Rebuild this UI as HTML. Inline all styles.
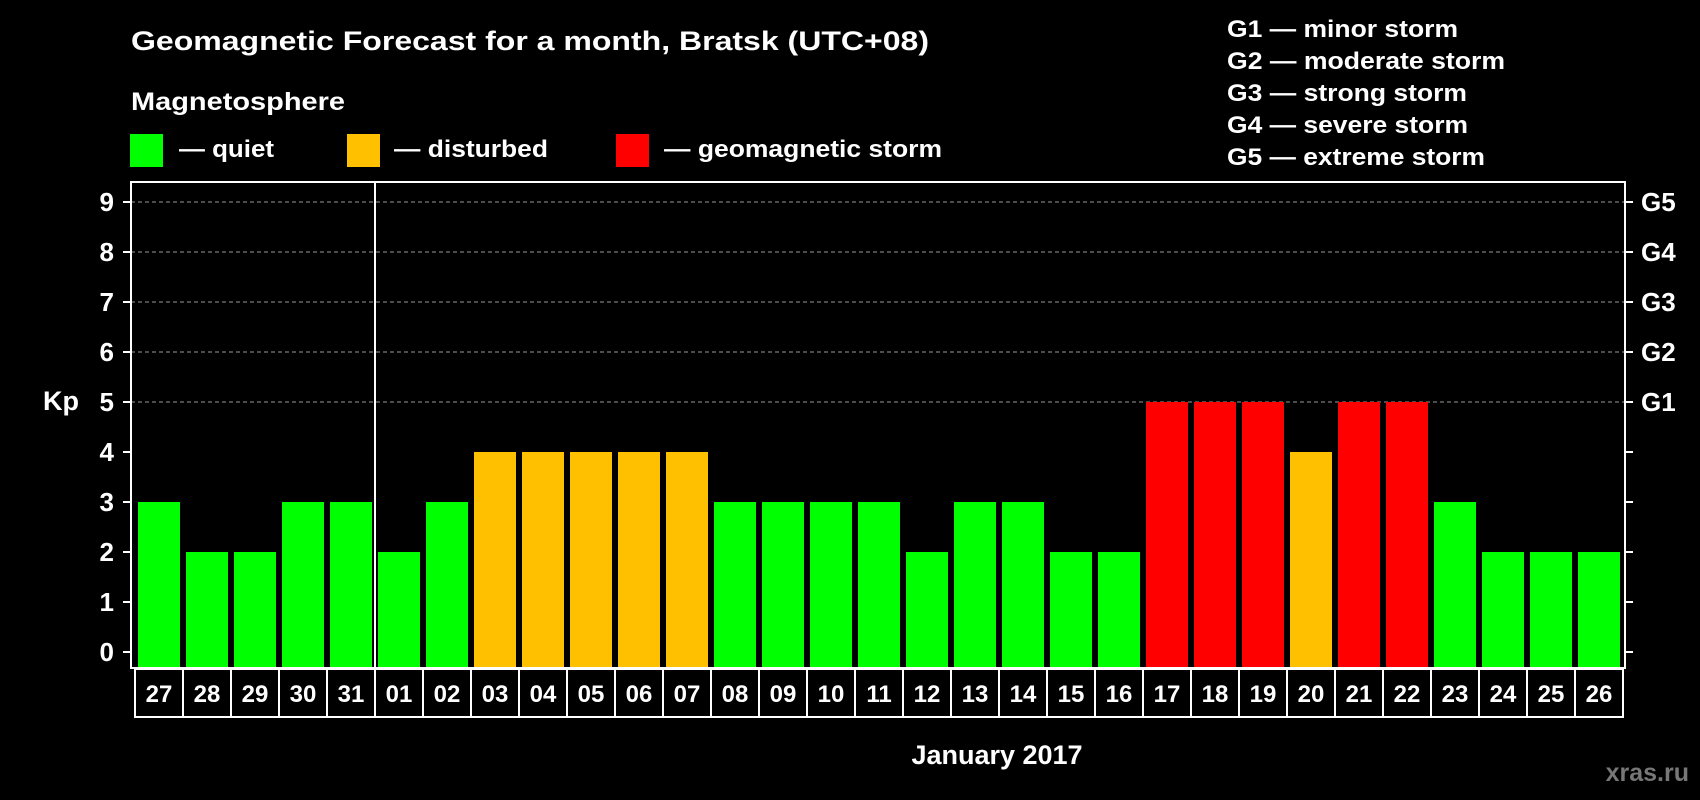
<!DOCTYPE html>
<html><head><meta charset="utf-8"><style>
html,body{margin:0;padding:0;background:#000;width:1700px;height:800px;overflow:hidden}
svg{display:block;font-family:"Liberation Sans",Arial,sans-serif;font-weight:bold}
</style></head><body>
<svg id="chart" width="1700" height="800" viewBox="0 0 1700 800">
<rect width="1700" height="800" fill="#000"/>
<text x="131" y="50" fill="#fff" font-size="27" textLength="798" lengthAdjust="spacingAndGlyphs">Geomagnetic Forecast for a month, Bratsk (UTC+08)</text>
<text x="131" y="110" fill="#fff" font-size="25" textLength="214" lengthAdjust="spacingAndGlyphs">Magnetosphere</text>
<rect x="130" y="134" width="33" height="33" fill="#00ff00"/>
<text x="179" y="157" fill="#fff" font-size="24" textLength="95" lengthAdjust="spacingAndGlyphs">— quiet</text>
<rect x="347" y="134" width="33" height="33" fill="#ffc000"/>
<text x="394" y="157" fill="#fff" font-size="24" textLength="154" lengthAdjust="spacingAndGlyphs">— disturbed</text>
<rect x="616" y="134" width="33" height="33" fill="#ff0000"/>
<text x="664" y="157" fill="#fff" font-size="24" textLength="278" lengthAdjust="spacingAndGlyphs">— geomagnetic storm</text>
<g fill="#fff" font-size="24">
<text x="1227" y="37" textLength="231" lengthAdjust="spacingAndGlyphs">G1 — minor storm</text>
<text x="1227" y="69" textLength="278" lengthAdjust="spacingAndGlyphs">G2 — moderate storm</text>
<text x="1227" y="101" textLength="240" lengthAdjust="spacingAndGlyphs">G3 — strong storm</text>
<text x="1227" y="133" textLength="241" lengthAdjust="spacingAndGlyphs">G4 — severe storm</text>
<text x="1227" y="165" textLength="258" lengthAdjust="spacingAndGlyphs">G5 — extreme storm</text>
</g>
<text x="43" y="410" fill="#fff" font-size="27">Kp</text>
<text x="997" y="764" fill="#fff" font-size="27" text-anchor="middle">January 2017</text>
<text x="1689" y="781" fill="#777" font-size="25" text-anchor="end">xras.ru</text>
<g id="grid"></g><g id="bars"></g><g id="axes"></g>
</svg>
<script>
const days = ["27","28","29","30","31","01","02","03","04","05","06","07","08","09","10","11","12","13","14","15","16","17","18","19","20","21","22","23","24","25","26"];
const kp = [3,2,2,3,3,2,3,4,4,4,4,4,3,3,3,3,2,3,3,2,2,5,5,5,4,5,5,3,2,2,2];
const yTicks = [0,1,2,3,4,5,6,7,8,9];
const gLabels = ["","","","","","G1","G2","G3","G4","G5"];
const NS="http://www.w3.org/2000/svg";
const L=131,R=1625,T=182,B=668,X0=138,P=48,BW=42;
const y=v=>652-v*50;
const x=i=>X0+i*P;
function mk(tag,parent,attrs){const e=document.createElementNS(NS,tag);for(const k in attrs)e.setAttribute(k,attrs[k]);parent.appendChild(e);return e;}
const grid=document.getElementById('grid'),bars=document.getElementById('bars'),axes=document.getElementById('axes');
yTicks.forEach((v,i)=>{
  if(v>=5){const g=mk('line',grid,{x1:L,x2:R,y1:y(v),y2:y(v),stroke:'#999','stroke-width':1,'stroke-dasharray':'4,3'});
  
  }
  const t1=mk('line',axes,{x1:L-8,x2:L,y1:y(v),y2:y(v),stroke:'#fff','stroke-width':2});
  
  
  const t2=mk('line',axes,{x1:R,x2:R+8,y1:y(v),y2:y(v),stroke:'#fff','stroke-width':2});
  
  
  const lb=mk('text',axes,{x:114,y:y(v)+9,fill:'#fff','font-size':26,'text-anchor':'end'});
  lb.textContent=v;
  
  
  if(gLabels[i]){const g=mk('text',axes,{x:1641,y:y(v)+9,fill:'#fff','font-size':26});
  g.textContent=gLabels[i];
  
  }
});
kp.forEach((v,i)=>{
  const c=v>=5?'#ff0000':v>=4?'#ffc000':'#00ff00';
  const b=mk('rect',bars,{x:x(i),y:y(v),width:BW,height:B-y(v)-1,fill:c});
  
  
  const bx=mk('rect',axes,{x:135+i*P,y:669,width:P,height:48,fill:'none',stroke:'#fff','stroke-width':2});
  
  
  const t=mk('text',axes,{x:135+i*P+P/2,y:702,fill:'#fff','font-size':24,'text-anchor':'middle'});
  t.textContent=days[i];
  
  
});
const fr=mk('rect',axes,{x:L,y:T,width:R-L,height:B-T,fill:'none',stroke:'#fff','stroke-width':2});


const mi=days.indexOf('01');
const ml=mk('line',axes,{x1:X0+mi*P-3,x2:X0+mi*P-3,y1:T,y2:B,stroke:'#fff','stroke-width':2});


</script>
</body></html>
